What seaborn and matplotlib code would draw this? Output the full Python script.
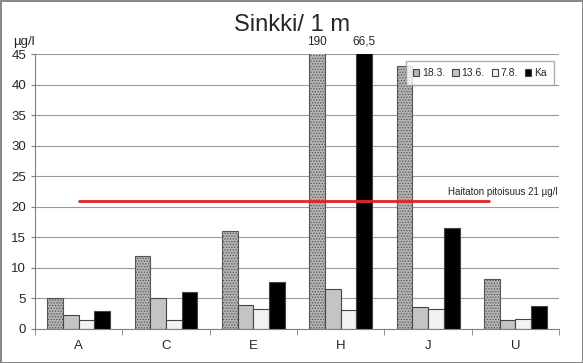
import matplotlib
matplotlib.use("Agg")
import matplotlib.pyplot as plt
import seaborn as sns
import pandas as pd

# data (µg/l)
sites = ["A", "C", "E", "H", "J", "U"]
series = ["18.3.", "13.6.", "7.8.", "Ka"]
v_183 = [5.1, 12.0, 16.0, 190.0, 43.0, 8.1]
v_136 = [2.2, 5.0, 3.9, 6.5, 3.6, 1.4]
v_78 = [1.5, 1.5, 3.2, 3.1, 3.2, 1.6]
v_ka = [2.9, 6.1, 7.6, 66.5, 16.5, 3.7]
limit = 21
limit_label = "Haitaton pitoisuus 21 µg/l"

rows = []
for name, vals in zip(series, [v_183, v_136, v_78, v_ka]):
    for s, v in zip(sites, vals):
        rows.append({"site": s, "series": name, "value": v})
df = pd.DataFrame(rows)

sns.set_style("white")
plt.rcParams["font.family"] = ["Liberation Sans", "DejaVu Sans"]
plt.rcParams["hatch.linewidth"] = 0.6

fig = plt.figure(figsize=(5.83, 3.63), dpi=100)
fig.patch.set_edgecolor("#8a8a8a")
fig.patch.set_linewidth(2)
ax = fig.add_axes([0.060, 0.094, 0.899, 0.757])

palette = {"18.3.": "#b4b4b4", "13.6.": "#c4c4c4", "7.8.": "#f2f2f2", "Ka": "#000000"}
sns.barplot(data=df, x="site", y="value", hue="series", order=sites,
            hue_order=series, palette=palette, width=0.72, gap=0,
            edgecolor="#444444", linewidth=0.8, saturation=1, ax=ax)

# speckled texture for the first series
for bar in ax.containers[0]:
    bar.set_hatch("......")
    bar.set_edgecolor("#555555")

ax.set_ylim(0, 45)
ax.set_xlim(-0.5, len(sites) - 0.5)
ax.set_yticks(range(0, 46, 5))
ax.yaxis.grid(True, color="#9a9a9a", linewidth=0.8)
ax.set_axisbelow(True)
for side in ["top", "right"]:
    ax.spines[side].set_visible(False)
ax.spines["left"].set_color("#808080")
ax.spines["bottom"].set_color("#808080")
ax.set_xlabel("")
ax.set_ylabel("")
ax.tick_params(axis="y", labelsize=9.5, length=3, color="#808080", left=True)
ax.tick_params(axis="x", labelsize=9.5, length=0, pad=8)
ax.set_xticks([i - 0.5 for i in range(len(sites) + 1)], minor=True)
ax.tick_params(axis="x", which="minor", length=4, color="#808080", bottom=True)

# values of the clipped bars
for bar, v in zip(ax.containers[0], v_183):
    if v > 45:
        ax.text(bar.get_x() + bar.get_width() / 2, 46, f"{v:g}", ha="center",
                va="bottom", fontsize=8.5, clip_on=False)
for bar, v in zip(ax.containers[3], v_ka):
    if v > 45:
        ax.text(bar.get_x() + bar.get_width() / 2, 46, f"{v:g}".replace(".", ","),
                ha="center", va="bottom", fontsize=8.5, clip_on=False)

# threshold line
ax.plot([0, 4.7], [limit, limit], color="#e8202a", linewidth=2)
ax.text(4.85, limit + 0.6, limit_label, ha="center", va="bottom", fontsize=7)

ax.legend(loc="upper right", ncol=4, fontsize=7.5, frameon=True, fancybox=False,
          edgecolor="#9a9a9a", handlelength=0.6, handleheight=0.6,
          handletextpad=0.25, columnspacing=0.7, borderpad=0.7,
          bbox_to_anchor=(1.0, 0.995))

fig.text(0.5, 0.93, "Sinkki/ 1 m", ha="center", va="center", fontsize=17)
fig.text(0.022, 0.885, "µg/l", ha="left", va="center", fontsize=9.5)

fig.savefig("out.png", dpi=100)
